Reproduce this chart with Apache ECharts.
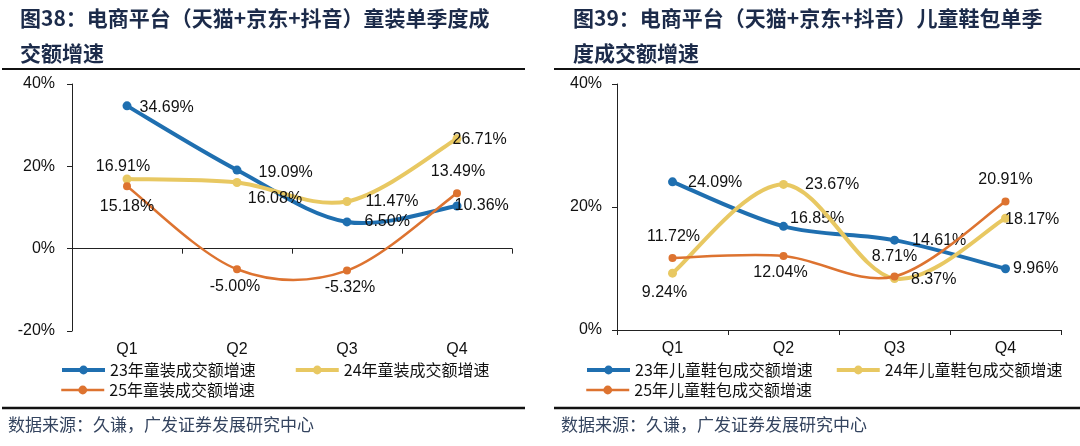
<!DOCTYPE html>
<html>
<head>
<meta charset="utf-8">
<script src="https://cdn.jsdelivr.net/npm/echarts@6/dist/echarts.min.js"></script>
<style>
html,body{margin:0;padding:0;background:#fff;}
#c{width:1080px;height:446px;}
</style>
</head>
<body>
<div id="c"></div>
<script>
// ---------- data ----------
var categories = ['Q1', 'Q2', 'Q3', 'Q4'];
var leftTitle = '图38：电商平台（天猫+京东+抖音）童装单季度成\n交额增速';
var rightTitle = '图39：电商平台（天猫+京东+抖音）儿童鞋包单季\n度成交额增速';
var sourceText = '数据来源：久谦，广发证券发展研究中心';

var leftNames = ['23年童装成交额增速', '24年童装成交额增速', '25年童装成交额增速'];
var left23 = [34.69, 19.09, 6.50, 10.36];
var left24 = [16.91, 16.08, 11.47, 26.71];
var left25 = [15.18, -5.00, -5.32, 13.49];
var leftTicks = [-20, 0, 20, 40];

var rightNames = ['23年儿童鞋包成交额增速', '24年儿童鞋包成交额增速', '25年儿童鞋包成交额增速'];
var right23 = [24.09, 16.85, 14.61, 9.96];
var right24 = [9.24, 23.67, 8.37, 18.17];
var right25 = [11.72, 12.04, 8.71, 20.91];
var rightTicks = [0, 20, 40];

// ---------- styles / label layout (not data) ----------
var BLUE = '#1f6fb0', YELLOW = '#e8c862', ORANGE = '#dd7330';
var labelLayout = {
  l23: [['right', [3, 2]], ['right', [12, 3]], ['right', [8, 0]], ['right', [-12, 0]]],
  l24: [['top', [-4, 5]], ['bottom', [38, -1]], ['right', [9, 0]], ['right', [-14, 1]]],
  l25: [['bottom', [0, 3]], ['bottom', [-2, 0]], ['bottom', [3, 0]], ['top', [1, -5]]],
  r23: [['right', [6, 1]], ['right', [-3, -8]], ['right', [8, 0]], ['right', [-2, 0]]],
  r24: [['bottom', [-8, 2]], ['right', [12, 0]], ['right', [7, 1]], ['right', [-10, 1]]],
  r25: [['top', [1, -4]], ['bottom', [-3, 0]], ['top', [0, -3]], ['top', [0, -5]]]
};

function build(values, layout) {
  return values.map(function (v, i) {
    return {
      value: v,
      label: { position: layout[i][0], offset: layout[i][1] }
    };
  });
}

var LABEL_FONT = '"Liberation Sans", Arial, sans-serif';
var CJK_FONT = '"Noto Sans CJK SC", sans-serif';

// symbols + labels (line itself drawn by the curve series)
function pointSeries(name, values, layout, color, size, xi, yi, z) {
  return {
    name: name,
    type: 'line',
    xAxisIndex: xi,
    yAxisIndex: yi,
    symbol: 'circle',
    symbolSize: size,
    lineStyle: { color: color, width: 0, opacity: 0 },
    itemStyle: { color: color },
    label: {
      show: true,
      fontFamily: LABEL_FONT,
      fontSize: 16,
      color: '#111',
      formatter: function (p) { return p.value.toFixed(2) + '%'; }
    },
    emphasis: { disabled: true },
    data: build(values, layout),
    z: z
  };
}

// smoothed curve (Catmull-Rom style bezier through the data points, positioned with api.coord)
function curveSeries(name, values, color, width, xi, yi, z) {
  return {
    name: name + '-曲线',
    type: 'custom',
    xAxisIndex: xi,
    yAxisIndex: yi,
    silent: true,
    z: z,
    data: values.map(function (v, i) { return [i, v]; }),
    renderItem: function (params, api) {
      if (params.dataIndex !== 0) return null;
      var p = values.map(function (v, i) { return api.coord([i, v]); });
      var n = p.length;
      var d = 'M' + p[0][0] + ' ' + p[0][1];
      for (var i = 0; i < n - 1; i++) {
        var p0 = p[Math.max(i - 1, 0)], p1 = p[i], p2 = p[i + 1], p3 = p[Math.min(i + 2, n - 1)];
        var c1x = p1[0] + (p2[0] - p0[0]) / 6, c1y = p1[1] + (p2[1] - p0[1]) / 6;
        var c2x = p2[0] - (p3[0] - p1[0]) / 6, c2y = p2[1] - (p3[1] - p1[1]) / 6;
        d += ' C' + c1x + ' ' + c1y + ' ' + c2x + ' ' + c2y + ' ' + p2[0] + ' ' + p2[1];
      }
      return {
        type: 'path',
        shape: { pathData: d },
        style: { fill: null, stroke: color, lineWidth: width, lineCap: 'round', lineJoin: 'round' }
      };
    }
  };
}

function yAxis(grid, min, max, margin) {
  return {
    gridIndex: grid,
    type: 'value',
    min: min,
    max: max,
    interval: 20,
    axisLine: { show: true, lineStyle: { color: '#222', width: 1 } },
    axisTick: { show: true, length: 5, lineStyle: { color: '#222' } },
    splitLine: { show: false },
    axisLabel: {
      margin: margin,
      fontFamily: LABEL_FONT,
      fontSize: 16,
      color: '#111',
      formatter: '{value}%'
    }
  };
}

var chart = echarts.init(document.getElementById('c'), null, { renderer: 'canvas' });

var legendText = { fontFamily: CJK_FONT, fontSize: 16, color: '#111' };
function legendItem(name, color, w) {
  return { name: name, itemStyle: { color: color }, lineStyle: { color: color, width: w, opacity: 1 } };
}

var option = {
  animation: false,
  backgroundColor: '#fff',
  title: [
    {
      text: leftTitle, left: 15, top: -4,
      textStyle: { fontFamily: CJK_FONT, fontSize: 21, fontWeight: 'bold', color: '#1c2b4a', lineHeight: 35 }
    },
    {
      text: rightTitle, left: 568, top: -4,
      textStyle: { fontFamily: CJK_FONT, fontSize: 21, fontWeight: 'bold', color: '#1c2b4a', lineHeight: 35 }
    },
    {
      text: sourceText, left: 3, top: 411,
      textStyle: { fontFamily: CJK_FONT, fontSize: 17, fontWeight: 'normal', color: '#34445f' }
    },
    {
      text: sourceText, left: 556, top: 411,
      textStyle: { fontFamily: CJK_FONT, fontSize: 17, fontWeight: 'normal', color: '#34445f' }
    }
  ],
  graphic: [
    { type: 'line', shape: { x1: 2, y1: 69, x2: 525, y2: 69 }, style: { stroke: '#111', lineWidth: 2 } },
    { type: 'line', shape: { x1: 554, y1: 69, x2: 1080, y2: 69 }, style: { stroke: '#111', lineWidth: 2 } },
    { type: 'line', shape: { x1: 2, y1: 408, x2: 525, y2: 408 }, style: { stroke: '#111', lineWidth: 2.5 } },
    { type: 'line', shape: { x1: 554, y1: 408, x2: 1080, y2: 408 }, style: { stroke: '#111', lineWidth: 2.5 } }
  ],
  legend: [
    { data: [legendItem(leftNames[0], BLUE, 4), legendItem(leftNames[1], YELLOW, 4)], left: 55, top: 357, itemGap: 38, itemWidth: 43, itemHeight: 11, textStyle: legendText, selectedMode: false },
    { data: [legendItem(leftNames[2], ORANGE, 2.5)], left: 55, top: 377, itemWidth: 43, itemHeight: 11, textStyle: legendText, selectedMode: false },
    { data: [legendItem(rightNames[0], BLUE, 4), legendItem(rightNames[1], YELLOW, 4)], left: 580, top: 357, itemGap: 22, itemWidth: 43, itemHeight: 11, textStyle: legendText, selectedMode: false },
    { data: [legendItem(rightNames[2], ORANGE, 2.5)], left: 580, top: 377, itemWidth: 43, itemHeight: 11, textStyle: legendText, selectedMode: false }
  ],
  grid: [
    { left: 72, top: 84, width: 440, height: 247, containLabel: false },
    { left: 617, top: 84, width: 444, height: 246, containLabel: false }
  ],
  xAxis: [
    {
      gridIndex: 0, type: 'category', data: categories, position: 'top',
      axisLine: { show: true, onZero: true, lineStyle: { color: '#222', width: 1 } },
      axisTick: { show: true, inside: true, length: 5, lineStyle: { color: '#222' } },
      axisLabel: { show: false },
      splitLine: { show: false }
    },
    {
      gridIndex: 0, type: 'category', data: categories, position: 'bottom',
      axisLine: { show: false, onZero: false },
      axisTick: { show: false },
      axisLabel: { show: true, margin: 11, fontFamily: LABEL_FONT, fontSize: 16, color: '#111' },
      splitLine: { show: false }
    },
    {
      gridIndex: 1, type: 'category', data: categories, position: 'bottom',
      axisLine: { show: true, onZero: false, lineStyle: { color: '#222', width: 1 } },
      axisTick: { show: true, length: 5, lineStyle: { color: '#222' } },
      axisLabel: { show: true, margin: 11, fontFamily: LABEL_FONT, fontSize: 16, color: '#111' },
      splitLine: { show: false }
    }
  ],
  yAxis: [
    yAxis(0, leftTicks[0], leftTicks[leftTicks.length - 1], 17),
    yAxis(1, rightTicks[0], rightTicks[rightTicks.length - 1], 15)
  ],
  series: [
    curveSeries(leftNames[0], left23, BLUE, 4, 0, 0, 2),
    pointSeries(leftNames[0], left23, labelLayout.l23, BLUE, 9, 0, 0, 3),
    curveSeries(leftNames[1], left24, YELLOW, 4, 0, 0, 4),
    pointSeries(leftNames[1], left24, labelLayout.l24, YELLOW, 9, 0, 0, 5),
    curveSeries(leftNames[2], left25, ORANGE, 2.5, 0, 0, 6),
    pointSeries(leftNames[2], left25, labelLayout.l25, ORANGE, 8, 0, 0, 7),
    curveSeries(rightNames[0], right23, BLUE, 4, 2, 1, 2),
    pointSeries(rightNames[0], right23, labelLayout.r23, BLUE, 9, 2, 1, 3),
    curveSeries(rightNames[1], right24, YELLOW, 4, 2, 1, 4),
    pointSeries(rightNames[1], right24, labelLayout.r24, YELLOW, 9, 2, 1, 5),
    curveSeries(rightNames[2], right25, ORANGE, 2.5, 2, 1, 6),
    pointSeries(rightNames[2], right25, labelLayout.r25, ORANGE, 8, 2, 1, 7)
  ]
};
chart.setOption(option);
</script>
</body>
</html>
